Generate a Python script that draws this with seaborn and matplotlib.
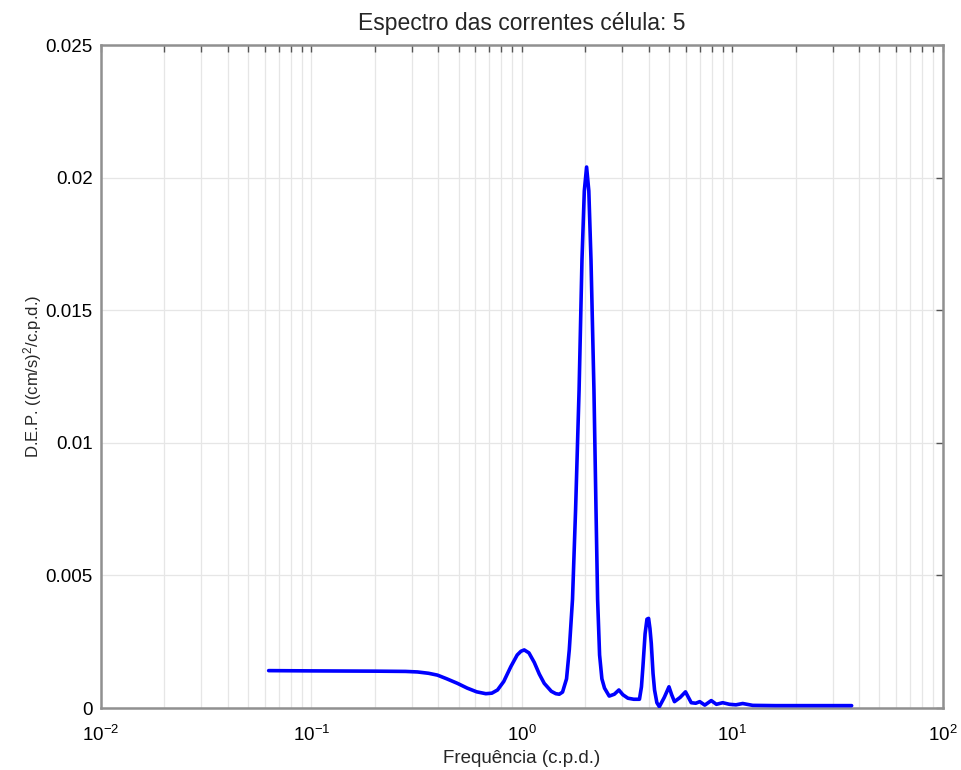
import matplotlib
matplotlib.use("Agg")
import matplotlib.pyplot as plt
import matplotlib.ticker as mticker
import numpy as np
import pandas as pd
import seaborn as sns

# Power spectral density of the currents (cell 5)
freq_cpd = [0.0626, 0.10, 0.20, 0.28, 0.319, 0.36, 0.397, 0.44, 0.494, 0.55,
            0.61, 0.674, 0.72, 0.766, 0.82, 0.886, 0.95, 0.99, 1.026, 1.08,
            1.145, 1.21, 1.277, 1.38, 1.45, 1.505, 1.56, 1.63, 1.68, 1.74,
            1.80, 1.87, 1.93, 1.98, 2.03, 2.08, 2.13, 2.20, 2.25, 2.29,
            2.34, 2.40, 2.47, 2.60, 2.75, 2.89, 3.02, 3.19, 3.40, 3.62,
            3.70, 3.76, 3.85, 3.93, 4.00, 4.06, 4.12, 4.20, 4.27, 4.38,
            4.50, 4.75, 5.00, 5.15, 5.31, 5.65, 5.99, 6.38, 6.70, 7.00,
            7.40, 7.94, 8.40, 9.00, 9.70, 10.4, 11.2, 12.5, 16.0, 20.0,
            28.0, 36.9]
dep = [0.00141, 0.00140, 0.00139, 0.00138, 0.00136, 0.00131, 0.00124, 0.00110, 0.00093, 0.00075,
       0.00061, 0.00054, 0.00056, 0.00068, 0.00100, 0.00156, 0.00200, 0.00214, 0.00219, 0.00208,
       0.00172, 0.00128, 0.00093, 0.00063, 0.00054, 0.00052, 0.00060, 0.00110, 0.00220, 0.00410,
       0.00750, 0.01200, 0.01690, 0.01950, 0.02040, 0.01950, 0.01690, 0.01200, 0.00750, 0.00410,
       0.00200, 0.00110, 0.00075, 0.00045, 0.00052, 0.00068, 0.00050, 0.00037, 0.00033, 0.00033,
       0.00080, 0.00156, 0.00280, 0.00335, 0.00338, 0.00300, 0.00244, 0.00130, 0.00068, 0.00020,
       0.00005, 0.00040, 0.00080, 0.00050, 0.00024, 0.00040, 0.00061, 0.00020, 0.00018, 0.00024,
       0.00011, 0.00028, 0.00014, 0.00020, 0.00014, 0.00012, 0.00017, 0.00010, 0.00009, 0.00009,
       0.00009, 0.00009]

title = "Espectro das correntes célula: 5"
xlabel = "Frequência (c.p.d.)"
ylabel = "D.E.P. ((cm/s)$^2$/c.p.d.)"
xtick_vals = [1e-2, 1e-1, 1e0, 1e1, 1e2]
xtick_labels = ["$10^{-2}$", "$10^{-1}$", "$10^{0}$", "$10^{1}$", "$10^{2}$"]
ytick_vals = [0, 0.005, 0.01, 0.015, 0.02, 0.025]
ytick_labels = ["0", "0.005", "0.01", "0.015", "0.02", "0.025"]

sns.set_style("white")
plt.rcParams["font.family"] = ["Liberation Sans", "DejaVu Sans"]
plt.rcParams["mathtext.fontset"] = "custom"
plt.rcParams["mathtext.rm"] = "Liberation Sans"
plt.rcParams["mathtext.it"] = "Liberation Sans"
plt.rcParams["mathtext.default"] = "regular"

df = pd.DataFrame({"freq": freq_cpd, "dep": dep})

fig = plt.figure(figsize=(9.62, 7.70), dpi=100)
ax = fig.add_axes([0.105, 0.0805, 0.875, 0.861])

sns.lineplot(data=df, x="freq", y="dep", ax=ax, color="#0000ff",
             linewidth=2.6, zorder=3)

ax.set_xscale("log")
ax.set_xlim(1e-2, 1e2)
ax.set_ylim(0, 0.025)

ax.set_xticks(xtick_vals)
ax.set_xticklabels(xtick_labels)
ax.xaxis.set_minor_locator(mticker.LogLocator(base=10, subs=np.arange(2, 10)))
ax.xaxis.set_minor_formatter(mticker.NullFormatter())
ax.set_yticks(ytick_vals)
ax.set_yticklabels(ytick_labels)

ax.grid(True, which="both", axis="x", color="#e6e6e6", linewidth=0.9)
ax.grid(True, which="major", axis="y", color="#e6e6e6", linewidth=0.9)
ax.set_axisbelow(True)

ax.tick_params(axis="both", which="both", direction="in", top=True, right=True,
               color="#555555", labelsize=13.5, labelcolor="black")
ax.tick_params(axis="both", which="major", length=5, width=1)
ax.tick_params(axis="y", which="major", pad=6)
ax.tick_params(axis="x", which="minor", length=5, width=1)
ax.tick_params(axis="x", which="major", pad=12)

for side in ["left", "right", "top", "bottom"]:
    ax.spines[side].set_color("#909090")
    ax.spines[side].set_linewidth(1.8)
    ax.spines[side].set_visible(True)

ax.set_title(title, fontsize=16.5, pad=11)
ax.set_xlabel(xlabel, fontsize=13.5, labelpad=4)
ax.set_ylabel(ylabel, fontsize=12, labelpad=1)

fig.savefig("out.png", dpi=100, facecolor="white")
